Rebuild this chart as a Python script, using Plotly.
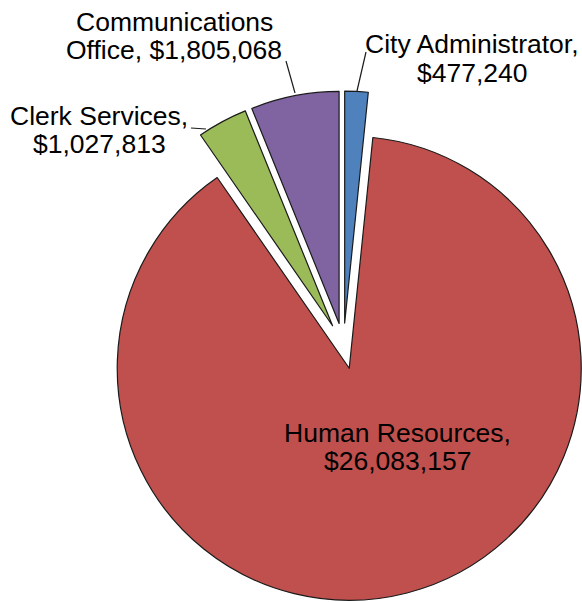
import math
import plotly.graph_objects as go

# ---- data ----
departments = ["City Administrator", "Human Resources", "Clerk Services", "Communications Office"]
budgets = [477240, 26083157, 1027813, 1805068]
colors = ["#4F81BD", "#C0504D", "#9BBB59", "#8064A2"]

# ---- layout constants (pixels) ----
W, H = 582, 602
CX, CY = 343.5, 346.0      # pie centre before explosion
R = 232.0                  # pie radius
EXPLODE = 23.0             # explosion distance
FONT = dict(family="Liberation Sans, Arial, sans-serif", size=26.5, color="#000000")
LINE_GAP = 28.5

# label block centres (pixels) and leader lines (pixels)
label_pos = {
    "City Administrator": (472, 58.5),
    "Human Resources": (397, 447),
    "Clerk Services": (99, 130),
    "Communications Office": (174, 36),
}
leaders = {
    "City Administrator": ((366, 52), (357, 91)),
    "Clerk Services": ((191, 128), (206, 129)),
    "Communications Office": ((286, 61), (295, 93)),
}


def wrap(text, width=19):
    words, lines, cur = text.split(" "), [], ""
    for w in words:
        cand = (cur + " " + w).strip()
        if len(cand) > width and cur:
            lines.append(cur)
            cur = w
        else:
            cur = cand
    lines.append(cur)
    return lines


def px(x, y):
    return x / W, 1 - y / H


total = sum(budgets)
fig = go.Figure()
cum = 0.0
for i, (name, val) in enumerate(zip(departments, budgets)):
    frac = val / total
    mid = (cum + frac / 2) * 2 * math.pi  # clockwise from 12 o'clock
    cum += frac
    cx = CX + EXPLODE * math.sin(mid)
    cy = CY - EXPLODE * math.cos(mid)
    mcols = [c if j == i else "rgba(0,0,0,0)" for j, c in enumerate(colors)]
    lw = [1.2 if j == i else 0 for j in range(len(colors))]
    fig.add_trace(go.Pie(
        labels=departments, values=budgets, sort=False, direction="clockwise",
        rotation=0, textinfo="none", hoverinfo="label+value",
        marker=dict(colors=mcols, line=dict(color="#1a1a1a", width=lw)),
        domain=dict(x=[(cx - R) / W, (cx + R) / W], y=[1 - (cy + R) / H, 1 - (cy - R) / H]),
        showlegend=False,
    ))

annotations = []
for name, val in zip(departments, budgets):
    lines = wrap(f"{name}, ${val:,}")
    bx, by = label_pos[name]
    n = len(lines)
    for k, ln in enumerate(lines):
        ly = by + (k - (n - 1) / 2) * LINE_GAP
        x, y = px(bx, ly)
        annotations.append(dict(text=ln, x=x, y=y, xref="paper", yref="paper",
                                xanchor="center", yanchor="middle", showarrow=False, font=FONT))

shapes = []
for name, ((x0, y0), (x1, y1)) in leaders.items():
    a, b = px(x0, y0)
    c, d = px(x1, y1)
    shapes.append(dict(type="line", xref="paper", yref="paper", x0=a, y0=b, x1=c, y1=d,
                       line=dict(color="#1a1a1a", width=1.2)))

fig.update_layout(
    width=W, height=H, margin=dict(l=0, r=0, t=0, b=0),
    paper_bgcolor="white", plot_bgcolor="white",
    annotations=annotations, shapes=shapes, showlegend=False,
)
fig.write_html("out.html", config={"displayModeBar": False},
               post_script="document.body.style.margin='0';document.body.style.overflow='hidden';")
